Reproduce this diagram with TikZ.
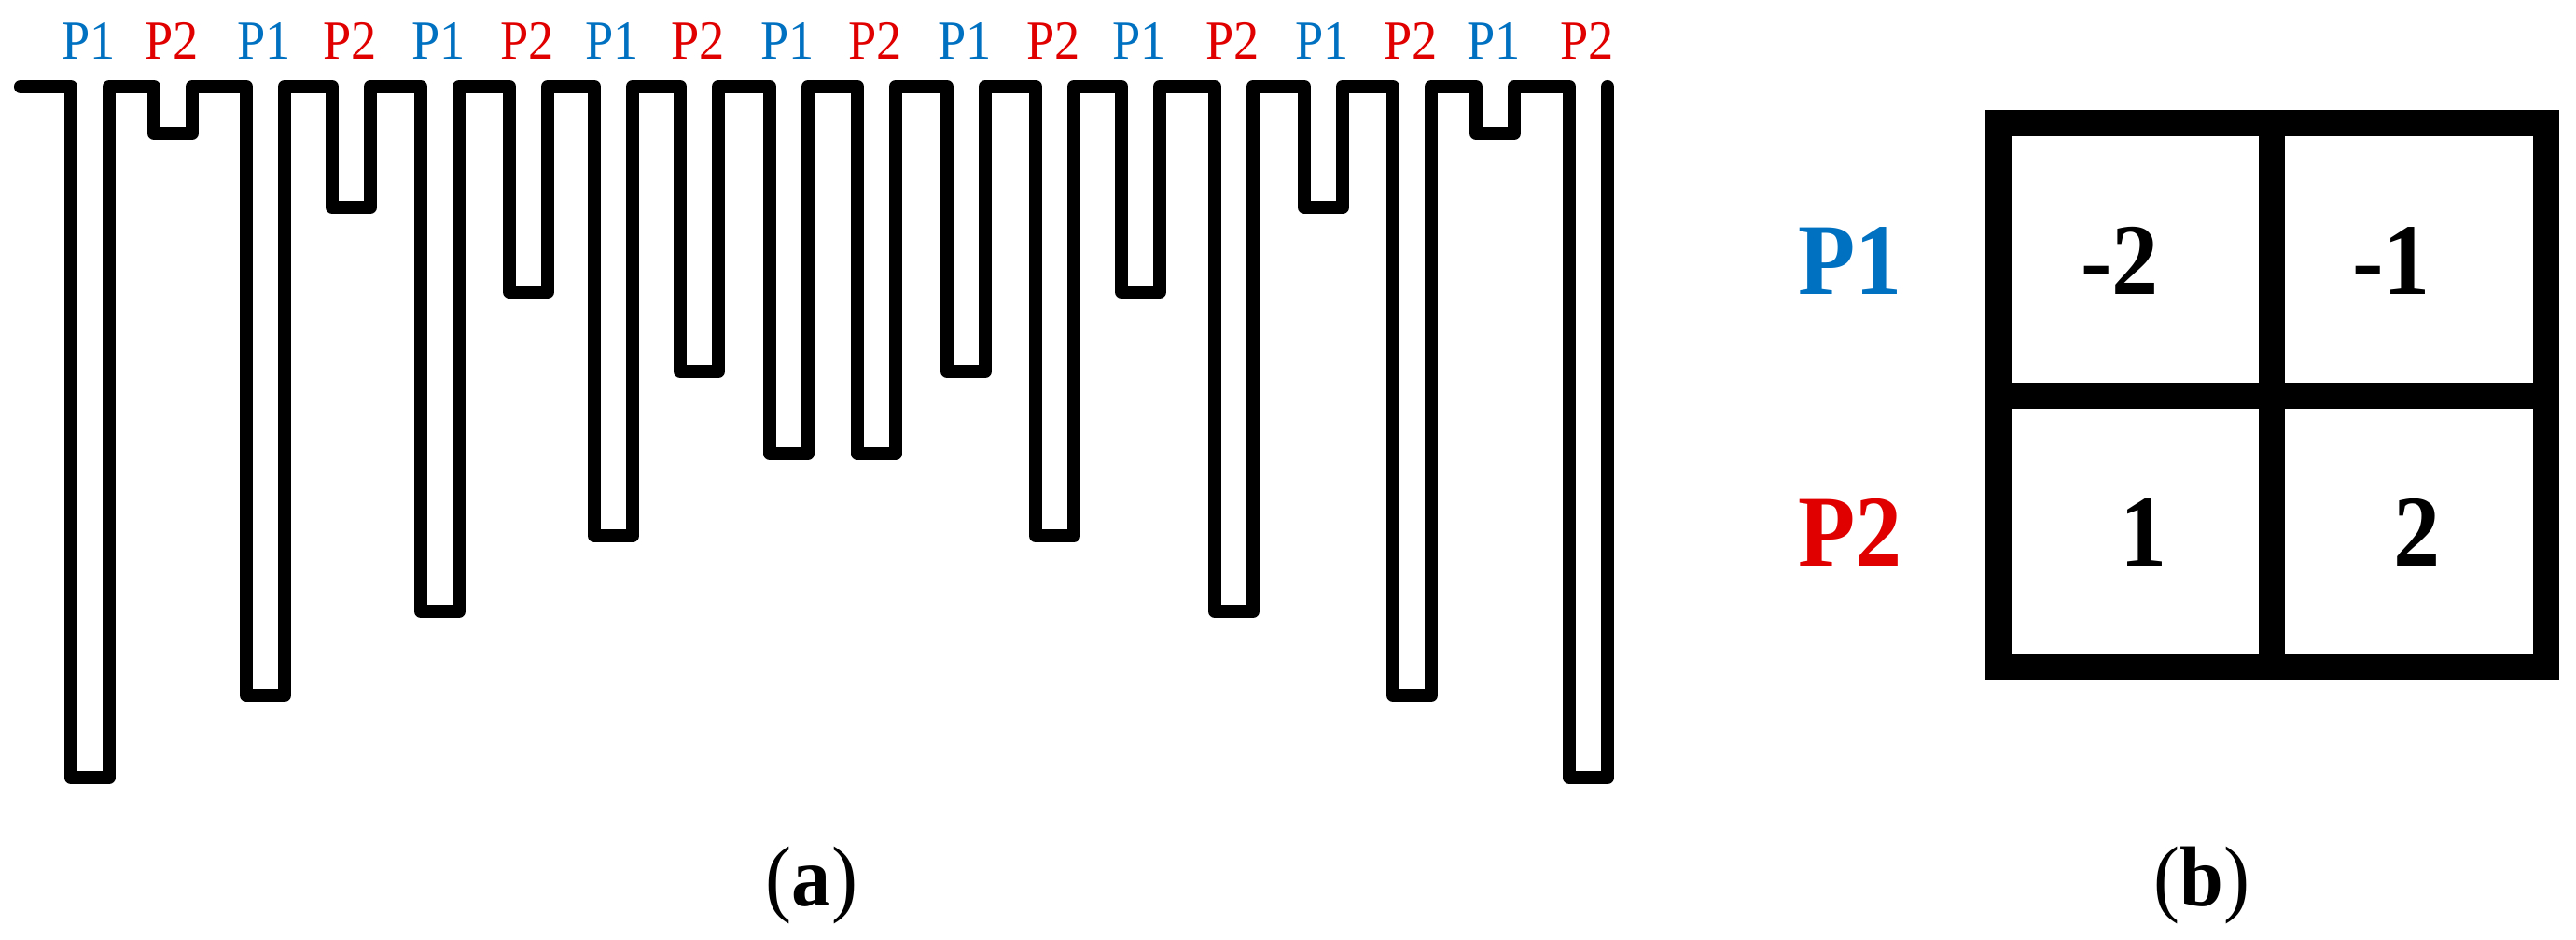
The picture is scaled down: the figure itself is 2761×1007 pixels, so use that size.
\documentclass[tikz,border=0pt]{standalone}
\usepackage{fontspec}
\setmainfont{Liberation Serif}
\usepackage{graphicx}
\usepackage{tikz}
\definecolor{port1}{RGB}{0,112,192}
\definecolor{port2}{RGB}{224,0,0}
\newcommand{\squeeze}[1]{\scalebox{0.92}[1]{#1}}

\begin{document}
\begin{tikzpicture}[x=0.01cm, y=-0.01cm]
	\tikzstyle{meander}=[draw, line width=0.14cm, line cap=round, line join=round]
	\tikzstyle{grid}=[draw, line width=0.28cm, line join=miter]
	\tikzstyle{tag}=[inner sep=0pt, anchor=base, font=\fontsize{16.8}{20}\selectfont]
	\tikzstyle{cell}=[inner sep=0pt, anchor=base, font=\fontsize{31}{36}\selectfont\bfseries]
	\tikzstyle{caption}=[inner sep=0pt, anchor=base, font=\fontsize{26}{30}\selectfont]
	\useasboundingbox (0,0) rectangle (2761,1007);
	% % (a) meander
	\draw[meander] (22,93)
	\foreach \l/\d in {76/833, 165/143, 264/745, 356/222, 451/655, 546/313,
		637/574, 729/398, 825/486, 919/486, 1015/398, 1110/574,
		1202/313, 1302/655, 1398/222, 1493/745, 1582/143, 1682/833}
	{ -- (\l,93) -- (\l,\d) -- (\l+41,\d) -- (\l+41,93) };
	% port labels
	\foreach \l/\p [count=\i] in {76/1, 165/2, 264/1, 356/2, 451/1, 546/2,
		637/1, 729/2, 825/1, 919/2, 1015/1, 1110/2,
		1202/1, 1302/2, 1398/1, 1493/2, 1582/1, 1682/2}
	\node[tag, text=port\p] (tag\i) at (\l+19,64) {\squeeze{P\p}};
	% % (b) matrix
	\draw[grid] (2142,132) rectangle (2729,715);
	\draw[grid] (2435,132) -- (2435,715);
	\draw[grid] (2142,424) -- (2729,424);
	% cells
	\node[cell] (m11) at (2272,316) {\squeeze{-2}};
	\node[cell] (m12) at (2563,316) {\squeeze{-1}};
	\node[cell] (m21) at (2298,607) {\squeeze{1}};
	\node[cell] (m22) at (2591,607) {\squeeze{2}};
	% rows
	\node[cell, text=port1] (row1) at (1983,316) {\squeeze{P1}};
	\node[cell, text=port2] (row2) at (1983,607) {\squeeze{P2}};
	% % captions
	\node[caption] (capa) at (870,970) {\squeeze{(\textbf{a})}};
	\node[caption] (capb) at (2360,970) {\squeeze{(\textbf{b})}};
\end{tikzpicture}
\end{document}
